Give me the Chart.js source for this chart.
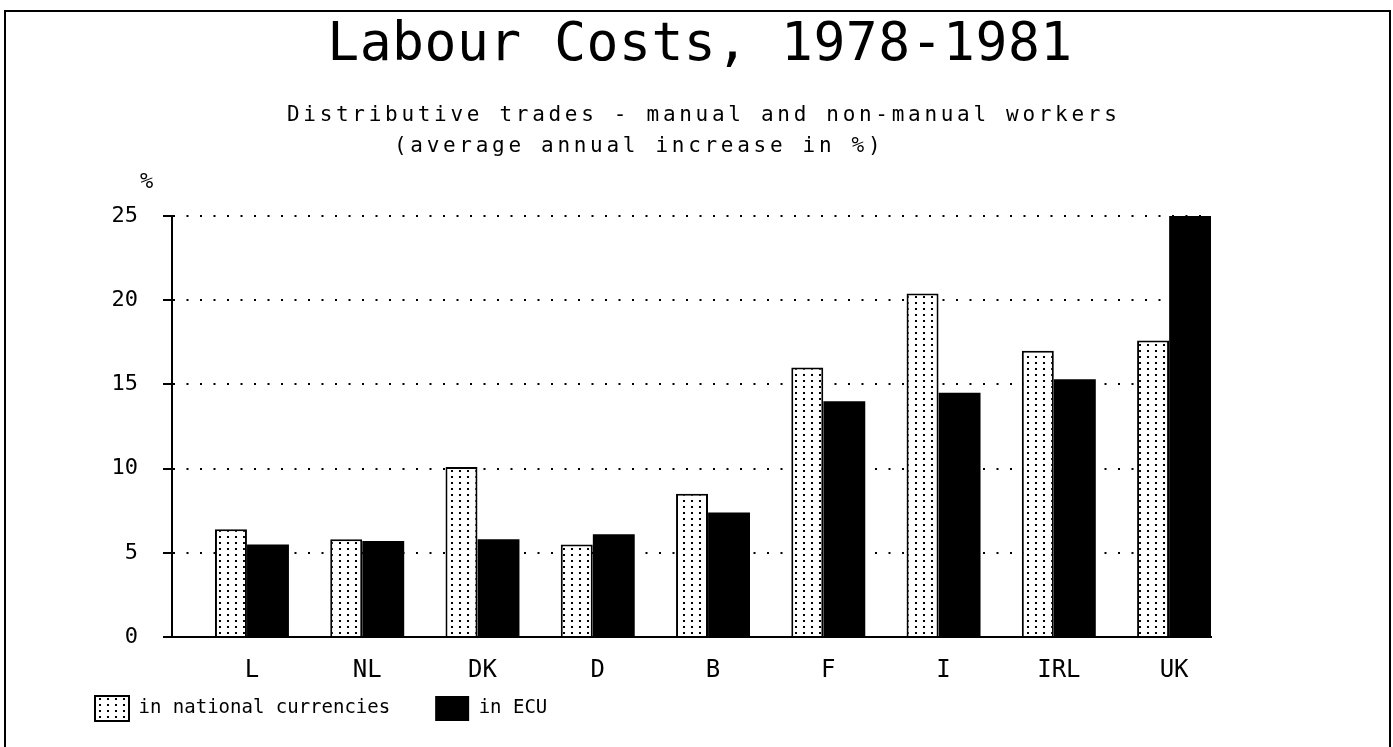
<!DOCTYPE html>
<html>
<head>
    <title>Labour Costs, 1978-1981</title>
    <script src="https://cdn.jsdelivr.net/npm/chart.js"></script>
    <style>
        body { margin: 0; background: #fff; font-family: "DejaVu Sans Mono", monospace; color: #000; }
        #page { position: relative; width: 1393px; height: 747px; overflow: hidden; }
        #frame { position: absolute; left: 4px; top: 10px; width: 1383px; height: 800px; border: 2px solid #000; }
        .txt { position: absolute; white-space: pre; z-index: 2; }
        #title { left: 0; width: 1400px; text-align: center; top: 15px; font-size: 53px; line-height: 53px; letter-spacing: 0.5px; }
        .sub { font-size: 21px; line-height: 21px; letter-spacing: 3.7px; }
        #sub1 { left: 287px; top: 104px; }
        #sub2 { left: 394px; top: 135px; }
        #pct { left: 140px; top: 170px; font-size: 22px; line-height: 22px; }
        #chart { position: absolute; left: 0; top: 0; z-index: 1; }
    </style>
</head>
<body>
<div id="page">
    <div id="frame"></div>
    <div class="txt" id="title">Labour Costs, 1978-1981</div>
    <div class="txt sub" id="sub1">Distributive trades - manual and non-manual workers</div>
    <div class="txt sub" id="sub2">(average annual increase in %)</div>
    <div class="txt" id="pct">%</div>
    <canvas id="chart" width="1393" height="747"></canvas>
</div>

<script>
    // Data
    const categories = ['L', 'NL', 'DK', 'D', 'B', 'F', 'I', 'IRL', 'UK'];
    const nationalCurrencies = [6.4, 5.8, 10.1, 5.5, 8.5, 16.0, 20.4, 17.0, 17.6];
    const inEcu = [5.5, 5.7, 5.8, 6.1, 7.4, 14.0, 14.5, 15.3, 25.0];
    const yTicks = [0, 5, 10, 15, 20, 25];

    const font = '"DejaVu Sans Mono", monospace';

    // Dotted fill for the "national currencies" bars
    function dotPattern() {
        const c = document.createElement('canvas');
        c.width = 8;
        c.height = 6;
        const g = c.getContext('2d');
        g.fillStyle = '#fff';
        g.fillRect(0, 0, 8, 6);
        g.fillStyle = '#000';
        g.fillRect(3, 2, 2, 2);
        return g.createPattern(c, 'repeat');
    }

    // legend padding is large to get the gap between the two items,
    // so move the legend back up/left after layout; also give the
    // x labels room so they are not clipped
    const layoutTweak = {
        id: 'layoutTweak',
        afterLayout(chart) {
            const lg = chart.legend;
            lg.top -= 24;
            lg.bottom -= 24;
            lg.left -= 35;
            lg.right -= 35;
            const x = chart.scales.x;
            x.bottom += 20;
            x.height += 20;
        }
    };

    const ctx = document.getElementById('chart').getContext('2d');

    new Chart(ctx, {
        type: 'bar',
        data: {
            datasets: [{
                label: 'in national currencies',
                data: nationalCurrencies.map((v, i) => ({ x: i, y: v })),
                backgroundColor: dotPattern(),
                borderColor: '#000',
                borderWidth: 2,
                // the dotted bars print a bit narrower than the black ones
                categoryPercentage: 0.73,
                barPercentage: 0.76
            }, {
                label: 'in ECU',
                data: inEcu.map((v, i) => ({ x: i, y: v })),
                backgroundColor: '#000',
                borderWidth: 0,
                categoryPercentage: 0.555,
                barPercentage: 1.31
            }]
        },
        options: {
            responsive: false,
            animation: false,
            layout: {
                padding: { top: 216, left: 85, right: 182, bottom: -8 }
            },
            scales: {
                x: {
                    type: 'linear',
                    offset: false,
                    min: -0.694,
                    max: 8.32,
                    grid: { display: false },
                    border: { display: true, color: '#000', width: 2 },
                    ticks: {
                        stepSize: 1,
                        includeBounds: false,
                        autoSkip: false,
                        maxRotation: 0,
                        padding: 14,
                        color: '#000',
                        font: { family: font, size: 24, lineHeight: 1 },
                        callback: v => categories[v] ?? ''
                    },
                    afterFit: scale => { scale.height = 38; }
                },
                y: {
                    min: 0,
                    max: 25,
                    afterBuildTicks: scale => {
                        scale.ticks = yTicks.map(v => ({ value: v }));
                    },
                    grid: {
                        color: '#000',
                        lineWidth: 2,
                        tickLength: 9,
                        tickColor: '#000',
                        tickWidth: 2
                    },
                    border: { display: true, color: '#000', width: 2, dash: [2, 11.5] },
                    ticks: {
                        padding: 25,
                        color: '#000',
                        font: { family: font, size: 22 }
                    },
                    afterFit: scale => { scale.width = 87; }
                }
            },
            plugins: {
                legend: {
                    position: 'bottom',
                    align: 'start',
                    labels: {
                        boxWidth: 34,
                        boxHeight: 25,
                        padding: 45,
                        color: '#000',
                        font: { family: font, size: 19 }
                    }
                },
                tooltip: { enabled: false }
            }
        },
        plugins: [layoutTweak]
    });
</script>
</body>
</html>
